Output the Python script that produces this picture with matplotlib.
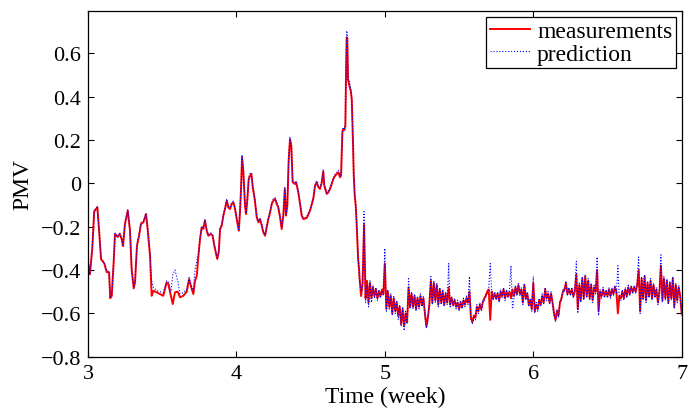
import matplotlib
matplotlib.use("Agg")
import matplotlib.pyplot as plt

plt.rcParams['font.family'] = ['Liberation Serif', 'DejaVu Serif']
plt.rcParams['axes.unicode_minus'] = True

# ---- part A: smooth first half (weeks 3 .. 4.83) ----
weeks_a = [
    3.002, 3.013, 3.029, 3.042, 3.063, 3.074, 3.088, 3.110, 3.126, 3.142,
    3.150, 3.160, 3.173, 3.182, 3.200, 3.214, 3.227, 3.236, 3.249, 3.268,
    3.283, 3.294, 3.308, 3.317, 3.330, 3.344, 3.357, 3.373, 3.391, 3.402,
    3.418, 3.429, 3.440, 3.463, 3.485, 3.507, 3.530, 3.541, 3.559, 3.571,
    3.586, 3.604, 3.620, 3.642, 3.665, 3.681, 3.699, 3.710, 3.721, 3.733,
    3.743, 3.755, 3.766, 3.777, 3.788, 3.800, 3.811, 3.827, 3.840, 3.849,
    3.863, 3.871, 3.881, 3.890, 3.901, 3.912, 3.923, 3.935, 3.945, 3.957,
    3.968, 3.979, 3.991, 4.002, 4.016, 4.024, 4.031, 4.038, 4.047, 4.058,
    4.065, 4.074, 4.083, 4.092, 4.101, 4.110, 4.123, 4.137, 4.148, 4.159,
    4.171, 4.181, 4.193, 4.204, 4.215, 4.227, 4.238, 4.249, 4.260, 4.272,
    4.282, 4.294, 4.305, 4.316, 4.326, 4.334, 4.343, 4.352, 4.361, 4.370,
    4.379, 4.393, 4.402, 4.417, 4.429, 4.440, 4.451, 4.474, 4.496, 4.518,
    4.530, 4.541, 4.552, 4.563, 4.574, 4.585, 4.592, 4.609, 4.619, 4.631,
    4.642, 4.653, 4.665, 4.676, 4.687, 4.698, 4.705, 4.714, 4.720, 4.727,
    4.734, 4.739, 4.743, 4.747, 4.752, 4.761, 4.770, 4.777, 4.781, 4.786,
    4.790, 4.797, 4.804, 4.811, 4.820, 4.826,
]

meas_a = [
    -0.372, -0.420, -0.300, -0.130, -0.110, -0.210, -0.350, -0.370, -0.410, -0.410,
    -0.530, -0.520, -0.365, -0.234, -0.248, -0.234, -0.257, -0.290, -0.188, -0.126,
    -0.218, -0.395, -0.485, -0.457, -0.288, -0.242, -0.188, -0.180, -0.142, -0.211,
    -0.334, -0.519, -0.496, -0.503, -0.511, -0.519, -0.457, -0.465, -0.519, -0.557,
    -0.503, -0.500, -0.526, -0.519, -0.500, -0.442, -0.488, -0.511, -0.450, -0.426,
    -0.342, -0.257, -0.203, -0.211, -0.172, -0.219, -0.242, -0.234, -0.242, -0.280,
    -0.326, -0.349, -0.318, -0.211, -0.196, -0.149, -0.119, -0.080, -0.111, -0.119,
    -0.096, -0.088, -0.119, -0.165, -0.219, -0.134, -0.026, 0.120, 0.050, -0.103,
    -0.142, -0.072, 0.020, 0.035, 0.043, -0.018, -0.072, -0.157, -0.180, -0.165,
    -0.196, -0.226, -0.242, -0.203, -0.165, -0.134, -0.096, -0.080, -0.072, -0.096,
    -0.111, -0.157, -0.211, -0.149, -0.026, -0.149, -0.103, 0.104, 0.204, 0.170,
    0.005, -0.003, 0.005, -0.042, -0.096, -0.149, -0.165, -0.160, -0.126, -0.072,
    -0.011, 0.005, -0.018, -0.026, 0.000, 0.054, -0.011, -0.049, -0.042, -0.026,
    -0.003, 0.020, 0.035, 0.043, 0.050, 0.028, 0.035, 0.235, 0.250, 0.245,
    0.266, 0.527, 0.674, 0.670, 0.480, 0.450, 0.427, 0.389, 0.297, 0.174,
    0.050, -0.057, -0.103, -0.200, -0.349, -0.395,
]

pred_a = [
    -0.370, -0.415, -0.295, -0.125, -0.108, -0.205, -0.345, -0.368, -0.405, -0.405,
    -0.525, -0.515, -0.360, -0.230, -0.245, -0.230, -0.255, -0.285, -0.185, -0.122,
    -0.215, -0.390, -0.480, -0.452, -0.285, -0.238, -0.180, -0.176, -0.138, -0.208,
    -0.330, -0.450, -0.480, -0.495, -0.500, -0.505, -0.450, -0.455, -0.500, -0.420,
    -0.400, -0.450, -0.510, -0.505, -0.490, -0.435, -0.480, -0.500, -0.400, -0.360,
    -0.335, -0.250, -0.198, -0.205, -0.165, -0.214, -0.238, -0.228, -0.238, -0.275,
    -0.320, -0.345, -0.312, -0.205, -0.190, -0.144, -0.112, -0.072, -0.105, -0.112,
    -0.090, -0.082, -0.114, -0.160, -0.214, -0.128, -0.020, 0.132, 0.058, -0.098,
    -0.138, -0.066, 0.026, 0.045, 0.050, -0.012, -0.066, -0.152, -0.175, -0.160,
    -0.190, -0.220, -0.238, -0.198, -0.160, -0.128, -0.090, -0.072, -0.066, -0.090,
    -0.105, -0.150, -0.205, -0.142, -0.020, -0.142, -0.096, 0.112, 0.212, 0.180,
    0.012, 0.004, 0.010, -0.036, -0.090, -0.144, -0.160, -0.155, -0.120, -0.066,
    -0.005, 0.012, -0.012, -0.020, 0.006, 0.062, -0.005, -0.044, -0.036, -0.020,
    0.003, 0.026, 0.042, 0.050, 0.060, 0.034, 0.040, 0.242, 0.258, 0.252,
    0.272, 0.540, 0.704, 0.690, 0.470, 0.470, 0.440, 0.395, 0.300, 0.180,
    0.055, -0.050, -0.098, -0.195, -0.345, -0.390,
]

# ---- part B: noisy second half (weeks 4.83 .. 7.00) ----
weeks_b = [
    4.83, 4.84, 4.85, 4.86, 4.87, 4.88, 4.89, 4.90, 4.91, 4.92,
    4.93, 4.94, 4.95, 4.96, 4.97, 4.98, 4.99, 5.00, 5.01, 5.02,
    5.03, 5.04, 5.05, 5.06, 5.07, 5.08, 5.09, 5.10, 5.11, 5.12,
    5.13, 5.14, 5.15, 5.16, 5.17, 5.18, 5.19, 5.20, 5.21, 5.22,
    5.23, 5.24, 5.25, 5.26, 5.27, 5.28, 5.29, 5.30, 5.31, 5.32,
    5.33, 5.34, 5.35, 5.36, 5.37, 5.38, 5.39, 5.40, 5.41, 5.42,
    5.43, 5.44, 5.45, 5.46, 5.47, 5.48, 5.49, 5.50, 5.51, 5.52,
    5.53, 5.54, 5.55, 5.56, 5.57, 5.58, 5.59, 5.60, 5.61, 5.62,
    5.63, 5.64, 5.65, 5.66, 5.67, 5.68, 5.69, 5.70, 5.71, 5.72,
    5.73, 5.74, 5.75, 5.76, 5.77, 5.78, 5.79, 5.80, 5.81, 5.82,
    5.83, 5.84, 5.85, 5.86, 5.87, 5.88, 5.89, 5.90, 5.91, 5.92,
    5.93, 5.94, 5.95, 5.96, 5.97, 5.98, 5.99, 6.00, 6.01, 6.02,
    6.03, 6.04, 6.05, 6.06, 6.07, 6.08, 6.09, 6.10, 6.11, 6.12,
    6.13, 6.14, 6.15, 6.16, 6.17, 6.18, 6.19, 6.20, 6.21, 6.22,
    6.23, 6.24, 6.25, 6.26, 6.27, 6.28, 6.29, 6.30, 6.31, 6.32,
    6.33, 6.34, 6.35, 6.36, 6.37, 6.38, 6.39, 6.40, 6.41, 6.42,
    6.43, 6.44, 6.45, 6.46, 6.47, 6.48, 6.49, 6.50, 6.51, 6.52,
    6.53, 6.54, 6.55, 6.56, 6.57, 6.58, 6.59, 6.60, 6.61, 6.62,
    6.63, 6.64, 6.65, 6.66, 6.67, 6.68, 6.69, 6.70, 6.71, 6.72,
    6.73, 6.74, 6.75, 6.76, 6.77, 6.78, 6.79, 6.80, 6.81, 6.82,
    6.83, 6.84, 6.85, 6.86, 6.87, 6.88, 6.89, 6.90, 6.91, 6.92,
    6.93, 6.94, 6.95, 6.96, 6.97, 6.98, 6.99, 7.00,
]

meas_b = [
    -0.44, -0.52, -0.46, -0.19, -0.53, -0.45, -0.55, -0.46, -0.53, -0.48,
    -0.52, -0.49, -0.53, -0.50, -0.52, -0.49, -0.51, -0.37, -0.58, -0.50,
    -0.57, -0.52, -0.60, -0.53, -0.59, -0.55, -0.61, -0.57, -0.65, -0.58,
    -0.66, -0.60, -0.64, -0.48, -0.57, -0.51, -0.57, -0.52, -0.58, -0.53,
    -0.57, -0.52, -0.56, -0.53, -0.60, -0.66, -0.62, -0.56, -0.45, -0.55,
    -0.46, -0.54, -0.47, -0.56, -0.49, -0.55, -0.50, -0.56, -0.51, -0.55,
    -0.48, -0.56, -0.53, -0.56, -0.54, -0.57, -0.55, -0.58, -0.55, -0.57,
    -0.54, -0.56, -0.53, -0.55, -0.50, -0.62, -0.64, -0.61, -0.62, -0.57,
    -0.59, -0.56, -0.58, -0.55, -0.53, -0.52, -0.50, -0.49, -0.63, -0.50,
    -0.53, -0.51, -0.53, -0.51, -0.54, -0.50, -0.52, -0.49, -0.53, -0.50,
    -0.52, -0.50, -0.53, -0.49, -0.52, -0.48, -0.51, -0.47, -0.51, -0.49,
    -0.55, -0.47, -0.53, -0.51, -0.56, -0.54, -0.58, -0.46, -0.59, -0.56,
    -0.58, -0.54, -0.56, -0.52, -0.55, -0.49, -0.53, -0.51, -0.55, -0.51,
    -0.55, -0.60, -0.63, -0.59, -0.61, -0.55, -0.53, -0.50, -0.49, -0.46,
    -0.51, -0.49, -0.51, -0.49, -0.52, -0.50, -0.42, -0.58, -0.47, -0.54,
    -0.44, -0.53, -0.43, -0.52, -0.45, -0.53, -0.47, -0.54, -0.48, -0.50,
    -0.40, -0.59, -0.50, -0.52, -0.49, -0.52, -0.50, -0.52, -0.49, -0.52,
    -0.49, -0.51, -0.48, -0.50, -0.60, -0.52, -0.53, -0.50, -0.53, -0.49,
    -0.52, -0.48, -0.51, -0.48, -0.50, -0.48, -0.50, -0.47, -0.40, -0.59,
    -0.44, -0.53, -0.43, -0.54, -0.46, -0.52, -0.45, -0.53, -0.47, -0.52,
    -0.49, -0.55, -0.50, -0.38, -0.54, -0.44, -0.53, -0.45, -0.55, -0.46,
    -0.53, -0.44, -0.57, -0.47, -0.54, -0.48, -0.52, -0.60,
]

pred_b = [
    -0.45, -0.50, -0.48, -0.13, -0.55, -0.47, -0.57, -0.45, -0.55, -0.47,
    -0.53, -0.48, -0.54, -0.49, -0.53, -0.50, -0.52, -0.30, -0.59, -0.49,
    -0.58, -0.51, -0.61, -0.52, -0.60, -0.54, -0.63, -0.56, -0.66, -0.57,
    -0.68, -0.59, -0.65, -0.44, -0.58, -0.50, -0.58, -0.51, -0.59, -0.52,
    -0.58, -0.51, -0.57, -0.52, -0.61, -0.67, -0.63, -0.55, -0.43, -0.56,
    -0.45, -0.55, -0.46, -0.57, -0.48, -0.56, -0.49, -0.57, -0.50, -0.56,
    -0.37, -0.57, -0.52, -0.57, -0.53, -0.58, -0.54, -0.59, -0.54, -0.58,
    -0.53, -0.57, -0.52, -0.56, -0.43, -0.63, -0.65, -0.62, -0.63, -0.56,
    -0.60, -0.55, -0.59, -0.54, -0.54, -0.51, -0.51, -0.48, -0.37, -0.51,
    -0.54, -0.50, -0.54, -0.50, -0.55, -0.49, -0.53, -0.48, -0.54, -0.49,
    -0.53, -0.49, -0.38, -0.58, -0.53, -0.47, -0.52, -0.46, -0.52, -0.48,
    -0.56, -0.46, -0.54, -0.50, -0.57, -0.53, -0.59, -0.43, -0.60, -0.55,
    -0.59, -0.53, -0.57, -0.51, -0.56, -0.48, -0.54, -0.50, -0.56, -0.50,
    -0.56, -0.61, -0.64, -0.58, -0.62, -0.54, -0.54, -0.49, -0.50, -0.45,
    -0.52, -0.48, -0.52, -0.48, -0.53, -0.49, -0.36, -0.60, -0.46, -0.55,
    -0.43, -0.54, -0.42, -0.53, -0.44, -0.54, -0.46, -0.55, -0.47, -0.51,
    -0.34, -0.61, -0.49, -0.53, -0.48, -0.53, -0.49, -0.53, -0.48, -0.53,
    -0.48, -0.52, -0.47, -0.51, -0.38, -0.53, -0.54, -0.49, -0.54, -0.48,
    -0.53, -0.47, -0.52, -0.47, -0.51, -0.47, -0.51, -0.46, -0.34, -0.60,
    -0.43, -0.54, -0.42, -0.55, -0.45, -0.53, -0.44, -0.54, -0.46, -0.53,
    -0.48, -0.56, -0.49, -0.33, -0.55, -0.43, -0.54, -0.44, -0.56, -0.45,
    -0.54, -0.43, -0.58, -0.46, -0.55, -0.47, -0.53, -0.61,
]

xticks = [3, 4, 5, 6, 7]
yticks = [-0.8, -0.6, -0.4, -0.2, 0, 0.2, 0.4, 0.6]
ytick_labels = ['\u22120.8', '\u22120.6', '\u22120.4', '\u22120.2', '0', '0.2', '0.4', '0.6']

weeks = weeks_a + weeks_b
measurements = meas_a + meas_b
prediction = pred_a + pred_b

fig = plt.figure(figsize=(6.89, 4.14), dpi=100)
ax = fig.add_axes([0.1277, 0.136, 0.8617, 0.835])

ax.plot(weeks, measurements, color='#ff0000', lw=1.4, label='measurements')
ax.plot(weeks, prediction, color='#0000ff', lw=0.8, ls=':', label='prediction')

ax.set_xlim(3, 7)
ax.set_ylim(-0.8, 0.795)
ax.set_xticks(xticks)
ax.set_xticklabels([str(v) for v in xticks])
ax.set_yticks(yticks)
ax.set_yticklabels(ytick_labels)

ax.tick_params(direction='in', length=4, width=0.8, top=True, right=True,
               labelsize=16, pad=5)
for s in ax.spines.values():
    s.set_linewidth(0.9)

ax.set_xlabel('Time (week)', fontsize=17, labelpad=2)
ax.set_ylabel('PMV', fontsize=17, labelpad=5)

leg = ax.legend(loc='upper right', fontsize=17, frameon=True, fancybox=False,
                edgecolor='black', framealpha=1, borderaxespad=0.25,
                handlelength=1.7, handletextpad=0.3, borderpad=0.15,
                labelspacing=0.05)
leg.get_frame().set_linewidth(0.9)

fig.savefig('out.png', dpi=100)
